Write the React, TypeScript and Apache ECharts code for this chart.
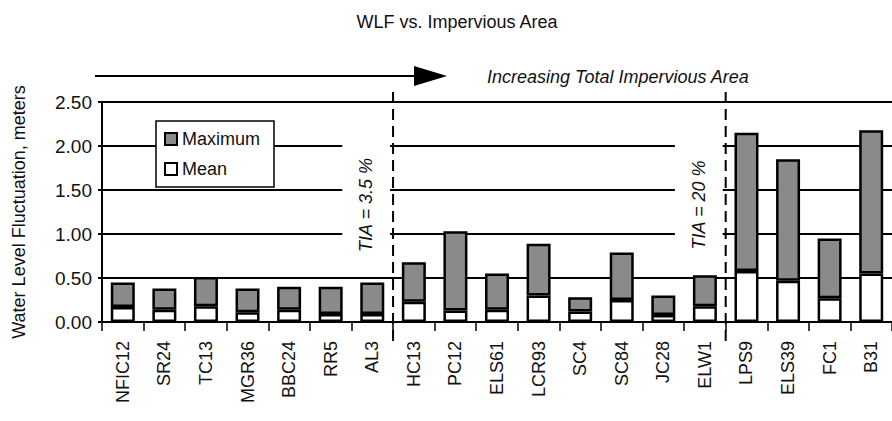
import React, { useEffect, useRef } from "react";
import * as echarts from "echarts";

const categories = ["NFIC12", "SR24", "TC13", "MGR36", "BBC24", "RR5", "AL3", "HC13", "PC12", "ELS61", "LCR93", "SC4", "SC84", "JC28", "ELW1", "LPS9", "ELS39", "FC1", "B31"];
const maximumValues = [0.45, 0.38, 0.51, 0.38, 0.40, 0.40, 0.45, 0.68, 1.03, 0.55, 0.89, 0.28, 0.79, 0.30, 0.53, 2.15, 1.85, 0.95, 2.18];
const meanValues = [0.17, 0.14, 0.18, 0.11, 0.14, 0.09, 0.09, 0.23, 0.13, 0.14, 0.30, 0.12, 0.25, 0.08, 0.18, 0.58, 0.47, 0.27, 0.55];
const yTicks = { min: 0, max: 2.5, interval: 0.5 };
const thresholds = [
  { after: "AL3", before: "HC13", label: "TIA = 3.5 %" },
  { after: "ELW1", before: "LPS9", label: "TIA = 20 %" },
];

const FONT = "'Liberation Sans', Arial, Helvetica, sans-serif";

export default function App() {
  const ref = useRef<HTMLDivElement>(null);
  useEffect(() => {
    if (!ref.current) return;
    const chart = echarts.init(ref.current, undefined, { renderer: "svg" });
    const excess = maximumValues.map((m, i) => +(m - meanValues[i]).toFixed(3));
    chart.setOption({
      animation: false,
      backgroundColor: "#ffffff",
      textStyle: { fontFamily: FONT, color: "#111" },
      title: {
        text: "WLF vs. Impervious Area",
        left: 452,
        textAlign: "center",
        top: 8,
        textStyle: { fontFamily: FONT, fontSize: 18, fontWeight: "normal", color: "#111" },
      },
      legend: {
        orient: "vertical",
        left: 156,
        top: 121,
        data: ["Maximum", "Mean"],
        backgroundColor: "#ffffff",
        borderColor: "#000",
        borderWidth: 1.5,
        padding: [9, 14, 9, 8],
        itemGap: 12,
        itemWidth: 12,
        itemHeight: 12,
        icon: "rect",
        textStyle: { fontFamily: FONT, fontSize: 18, color: "#111" },
        z: 10,
      },
      grid: { left: 102, top: 102, width: 790, height: 220 },
      xAxis: {
        type: "category",
        data: categories,
        axisLine: { lineStyle: { color: "#000", width: 2 } },
        axisTick: { show: true, length: 9, lineStyle: { color: "#000", width: 1.5 } },
        axisLabel: { rotate: 90, fontSize: 18, margin: 19, color: "#111", fontFamily: FONT, interval: 0 },
      },
      yAxis: {
        type: "value",
        min: yTicks.min,
        max: yTicks.max,
        interval: yTicks.interval,
        name: "Water Level Fluctuation, meters",
        nameLocation: "middle",
        nameGap: 74,
        nameTextStyle: { fontFamily: FONT, fontSize: 18, color: "#111" },
        axisLine: { show: true, lineStyle: { color: "#000", width: 2 } },
        axisTick: { show: true, length: 4, lineStyle: { color: "#000", width: 2 } },
        axisLabel: {
          fontSize: 19,
          margin: 10,
          color: "#111",
          fontFamily: FONT,
          formatter: (v: number) => v.toFixed(2),
        },
        splitLine: { show: true, lineStyle: { color: "#000", width: 2 } },
      },
      series: [
        {
          name: "Mean",
          type: "bar",
          stack: "wlf",
          barWidth: 24,
          data: meanValues,
          itemStyle: { color: "#ffffff", borderColor: "#000", borderWidth: 2.5 },
        },
        {
          name: "Maximum",
          type: "bar",
          stack: "wlf",
          barWidth: 24,
          data: excess,
          itemStyle: { color: "#8a8a8a", borderColor: "#000", borderWidth: 2.5 },
        },
      ],
    });

    const graphics: any[] = [];
    graphics.push({
      type: "line",
      shape: { x1: 95, y1: 76, x2: 420, y2: 76 },
      style: { stroke: "#000", lineWidth: 2 },
      z: 50,
    });
    graphics.push({
      type: "polygon",
      shape: { points: [[414, 66], [447, 76], [414, 86]] },
      style: { fill: "#000" },
      z: 50,
    });
    graphics.push({
      type: "text",
      x: 487,
      y: 77,
      style: {
        text: "Increasing Total Impervious Area",
        font: `italic 18px ${FONT}`,
        fill: "#111",
        verticalAlign: "middle",
        align: "left",
      },
      z: 50,
    });

    thresholds.forEach((t) => {
      const pA = chart.convertToPixel({ xAxisIndex: 0 }, t.after) as number;
      const pB = chart.convertToPixel({ xAxisIndex: 0 }, t.before) as number;
      const xb = (pA + pB) / 2;
      const yTop = chart.convertToPixel({ yAxisIndex: 0 }, 2.05) as number;
      const yBot = chart.convertToPixel({ yAxisIndex: 0 }, 0.75) as number;
      const yMid = chart.convertToPixel({ yAxisIndex: 0 }, 1.33) as number;
      graphics.push({
        type: "rect",
        shape: { x: pA - 30, y: yTop, width: xb - 3 - (pA - 30), height: yBot - yTop },
        style: { fill: "#ffffff" },
        z: 40,
      });
      graphics.push({
        type: "text",
        x: pA - 6,
        y: yMid,
        rotation: Math.PI / 2,
        style: {
          text: t.label,
          font: `italic 18px ${FONT}`,
          fill: "#111",
          align: "center",
          verticalAlign: "middle",
        },
        z: 50,
      });
      graphics.push({
        type: "line",
        shape: { x1: xb, y1: 92, x2: xb, y2: 345 },
        style: { stroke: "#000", lineWidth: 2, lineDash: [11, 6] },
        z: 50,
      });
    });

    chart.setOption({ graphic: { elements: graphics } });
    return () => chart.dispose();
  }, []);
  return <div ref={ref} style={{ position: "absolute", left: 0, top: 0, width: 892, height: 421 }} />;
}
